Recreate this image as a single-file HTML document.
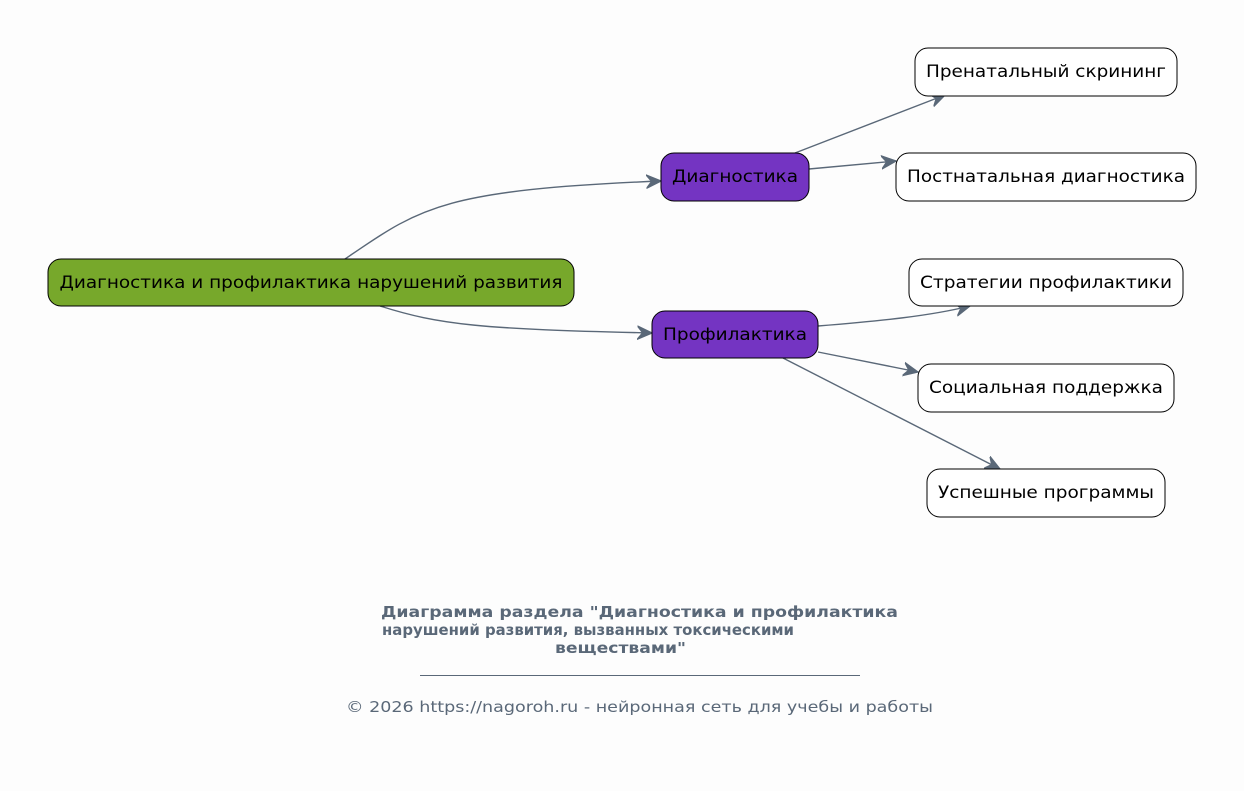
<!DOCTYPE html>
<html><head><meta charset="utf-8"><style>
html,body{margin:0;padding:0;background:#fdfdfd;}
svg{display:block;}
text{font-family:"DejaVu Sans","Liberation Sans",sans-serif;}
</style></head><body>
<svg width="1244" height="791" viewBox="0 0 1244 791" xmlns="http://www.w3.org/2000/svg">
<defs>
<marker id="a" viewBox="0 0 12 12" refX="11" refY="6" markerWidth="16" markerHeight="16" markerUnits="userSpaceOnUse" orient="auto">
<path d="M0,1 L11,6 L0,11 L4,6 z" fill="#5a6878" stroke="#5a6878" stroke-width="1" stroke-linejoin="round"/>
</marker>
</defs>
<rect width="1244" height="791" fill="#fdfdfd"/>
<g fill="none" stroke="#5a6878" stroke-width="1.4" marker-end="url(#a)">
<path d="M345,259 C420,208 440,190 661,181"/>
<path d="M380,306 C440,325 480,329 652,333"/>
<path d="M795,153 L945,95"/>
<path d="M809,169 L896,161"/>
<path d="M818,326 C880,321 930,316 970,306"/>
<path d="M818,352 L918,372"/>
<path d="M783,358 L1000,469"/>
</g>
<g stroke="#000" stroke-width="1">
<rect x="48" y="259" width="526" height="47" rx="13" fill="#77a82b"/>
<rect x="661" y="153" width="148" height="48" rx="13" fill="#7434c2"/>
<rect x="652" y="311" width="166" height="47" rx="13" fill="#7434c2"/>
<rect x="915" y="48" width="262" height="48" rx="13" fill="#fff"/>
<rect x="896" y="153" width="300" height="48" rx="13" fill="#fff"/>
<rect x="909" y="259" width="274" height="47" rx="13" fill="#fff"/>
<rect x="918" y="364" width="256" height="48" rx="13" fill="#fff"/>
<rect x="927" y="469" width="238" height="48" rx="13" fill="#fff"/>
</g>
<g font-size="17" fill="#000" text-anchor="middle">
<text x="311" y="288" textLength="503" lengthAdjust="spacingAndGlyphs">Диагностика и профилактика нарушений развития</text>
<text x="735" y="182" textLength="126" lengthAdjust="spacingAndGlyphs">Диагностика</text>
<text x="735" y="340" textLength="144" lengthAdjust="spacingAndGlyphs">Профилактика</text>
<text x="1046" y="77" textLength="240" lengthAdjust="spacingAndGlyphs">Пренатальный скрининг</text>
<text x="1046" y="182" textLength="278" lengthAdjust="spacingAndGlyphs">Постнатальная диагностика</text>
<text x="1046" y="288" textLength="252" lengthAdjust="spacingAndGlyphs">Стратегии профилактики</text>
<text x="1046" y="393" textLength="234" lengthAdjust="spacingAndGlyphs">Социальная поддержка</text>
<text x="1046" y="498" textLength="216" lengthAdjust="spacingAndGlyphs">Успешные программы</text>
</g>
<g font-size="15" font-weight="bold" fill="#5a6878">
<text x="381" y="617" textLength="517" lengthAdjust="spacingAndGlyphs">Диаграмма раздела "Диагностика и профилактика</text>
<text x="382" y="635" textLength="412" lengthAdjust="spacingAndGlyphs">нарушений развития, вызванных токсическими</text>
<text x="555" y="653" textLength="131" lengthAdjust="spacingAndGlyphs">веществами"</text>
</g>
<line x1="420" y1="675.5" x2="860" y2="675.5" stroke="#5a6878" stroke-width="1"/>
<text x="346" y="712" font-size="15" fill="#5a6878" textLength="587" lengthAdjust="spacingAndGlyphs">© 2026 https://nagoroh.ru - нейронная сеть для учебы и работы</text>
</svg>
</body></html>
